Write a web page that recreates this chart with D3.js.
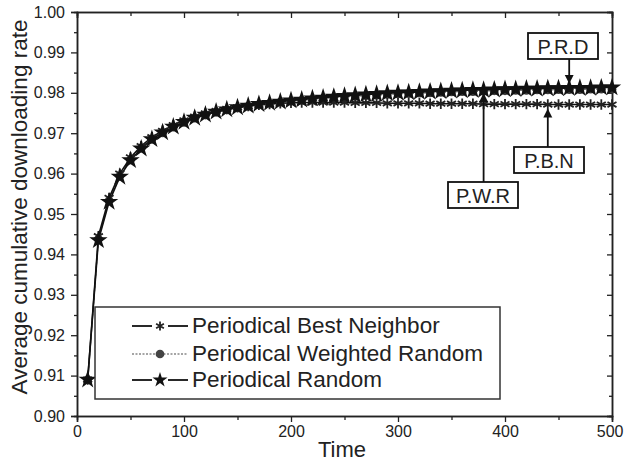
<!DOCTYPE html>
<html><head><meta charset="utf-8">
<script src="https://cdn.jsdelivr.net/npm/d3@7"></script>
<style>body{margin:0;background:#fff}svg{display:block}text{font-family:Arial,"Liberation Sans",sans-serif;fill:#222}</style>
</head><body><svg id="c" width="624" height="463"></svg>
<script>
const time = [10,20,30,40,50,60,70,80,90,100,110,120,130,140,150,160,170,180,190,200,210,220,230,240,250,260,270,280,290,300,310,320,330,340,350,360,370,380,390,400,410,420,430,440,450,460,470,480,490,500];
const bestNeighbor = [0.9090,0.9445,0.9540,0.9600,0.9640,0.9668,0.9690,0.9706,0.9720,0.9732,0.9741,0.9749,0.9755,0.9760,0.9764,0.9767,0.9770,0.9772,0.9774,0.9775,0.9776,0.9776,0.9776,0.9776,0.9776,0.9775,0.9775,0.9775,0.9774,0.9774,0.9774,0.9774,0.9773,0.9773,0.9773,0.9773,0.9773,0.9772,0.9772,0.9772,0.9772,0.9772,0.9772,0.9771,0.9771,0.9771,0.9771,0.9771,0.9771,0.9771];
const weightedRandom = [0.9090,0.9438,0.9533,0.9594,0.9634,0.9663,0.9685,0.9701,0.9715,0.9727,0.9737,0.9745,0.9752,0.9758,0.9763,0.9767,0.9771,0.9774,0.9777,0.9779,0.9781,0.9784,0.9786,0.9788,0.9790,0.9791,0.9793,0.9794,0.9796,0.9797,0.9798,0.9799,0.9800,0.9801,0.9802,0.9803,0.9803,0.9804,0.9805,0.9805,0.9806,0.9806,0.9807,0.9807,0.9808,0.9808,0.9808,0.9809,0.9809,0.9809];
const randomSel = [0.9090,0.9435,0.9530,0.9592,0.9633,0.9662,0.9685,0.9702,0.9716,0.9728,0.9738,0.9746,0.9753,0.9759,0.9764,0.9768,0.9772,0.9775,0.9778,0.9781,0.9783,0.9786,0.9788,0.9790,0.9792,0.9794,0.9796,0.9797,0.9799,0.9800,0.9801,0.9802,0.9803,0.9804,0.9805,0.9806,0.9807,0.9807,0.9808,0.9809,0.9809,0.9810,0.9810,0.9811,0.9811,0.9812,0.9812,0.9812,0.9813,0.9813];
const seriesNames = ["Periodical Best Neighbor","Periodical Weighted Random","Periodical Random"];
const xTicks = [0,100,200,300,400,500];
const yTicks = [0.90,0.91,0.92,0.93,0.94,0.95,0.96,0.97,0.98,0.99,1.00];
const annotations = [
  {label:"P.R.D", series:2, t:460},
  {label:"P.B.N", series:0, t:440},
  {label:"P.W.R", series:2, t:380}
];

const svg = d3.select("#c");
const L=77, R=612, T=12, B=416;
const x = d3.scaleLinear().domain([0,500]).range([L,R]);
const y = d3.scaleLinear().domain([0.90,1.00]).range([B,T]);

const fmt = d3.format(".2f");
// axes
const gx = svg.append("g").attr("transform",`translate(0,${B})`)
  .call(d3.axisBottom(x).tickValues(xTicks).tickSize(6).tickPadding(4).tickFormat(d3.format("d")));
gx.selectAll(".tick text").filter(d=>d===500).attr("text-anchor","end").attr("dx","11");
svg.append("g").attr("transform",`translate(0,${B})`)
  .call(d3.axisBottom(x).tickValues(d3.range(50,500,100)).tickSize(4).tickFormat(""));
svg.append("g").attr("transform",`translate(${L},0)`)
  .call(d3.axisLeft(y).tickValues(yTicks).tickSize(6).tickPadding(6).tickFormat(fmt));
svg.append("g").attr("transform",`translate(${L},0)`)
  .call(d3.axisLeft(y).tickValues(yTicks.slice(0,-1).map(v=>v+0.005)).tickSize(3).tickFormat(""));
svg.append("g").attr("transform",`translate(0,${T})`)
  .call(d3.axisBottom(x).tickValues(xTicks).tickSize(6).tickFormat(""));
svg.append("g").attr("transform",`translate(0,${T})`)
  .call(d3.axisBottom(x).tickValues(d3.range(50,500,100)).tickSize(4).tickFormat(""));
svg.append("g").attr("transform",`translate(${R},0)`)
  .call(d3.axisLeft(y).tickValues(yTicks).tickSize(5).tickFormat(""));
svg.append("g").attr("transform",`translate(${R},0)`)
  .call(d3.axisLeft(y).tickValues(yTicks.slice(0,-1).map(v=>v+0.005)).tickSize(3).tickFormat(""));
svg.selectAll(".domain").attr("stroke","#222").attr("stroke-width",1.5);
svg.selectAll(".tick line").attr("stroke","#222").attr("stroke-width",1.3);
svg.selectAll(".tick text").style("font-size","16px").attr("fill","#333");

// axis titles
svg.append("text").attr("x",342).attr("y",457).attr("text-anchor","middle").style("font-size","22px").text("Time");
svg.append("text").attr("transform","translate(27,207) rotate(-90)").attr("text-anchor","middle").style("font-size","22.5px").text("Average cumulative downloading rate");

// marker symbols
const starPath = d3.symbol().type(d3.symbolStar).size(105)();
const circPath = d3.symbol().type(d3.symbolCircle).size(60)();
function asterisk(g,cx,cy,s){
  const p = d3.path();
  for(let k=0;k<3;k++){const a=Math.PI/2+k*Math.PI/3; p.moveTo(cx-s*Math.cos(a),cy-s*Math.sin(a)); p.lineTo(cx+s*Math.cos(a),cy+s*Math.sin(a));}
  g.append("path").attr("d",p.toString()).attr("stroke","#222").attr("stroke-width",1.8).attr("fill","none");
}
const data = [bestNeighbor, weightedRandom, randomSel];
const line = d3.line().x((d,i)=>x(time[i])).y(d=>y(d));
const plot = svg.append("g");
plot.append("path").attr("d",line(weightedRandom)).attr("fill","none").attr("stroke","#777").attr("stroke-width",1.2).attr("stroke-dasharray","2,2");
plot.append("path").attr("d",line(bestNeighbor)).attr("fill","none").attr("stroke","#111").attr("stroke-width",1.6);
plot.append("path").attr("d",line(randomSel)).attr("fill","none").attr("stroke","#111").attr("stroke-width",1.6);
plot.selectAll(".wr").data(weightedRandom).join("path").attr("d",circPath)
  .attr("transform",(d,i)=>`translate(${x(time[i])},${y(d)})`).attr("fill","#3a3a3a");
bestNeighbor.forEach((d,i)=>asterisk(plot,x(time[i]),y(d),5.2));
plot.selectAll(".rs").data(randomSel).join("path").attr("d",starPath)
  .attr("transform",(d,i)=>`translate(${x(time[i])},${y(d)})`).attr("fill","#111");

// annotations
const defs = svg.append("defs");
defs.append("marker").attr("id","ah").attr("viewBox","0 0 10 10").attr("refX",9).attr("refY",5)
  .attr("markerWidth",5).attr("markerHeight",6).attr("orient","auto-start-reverse")
  .append("path").attr("d","M0,0 L10,5 L0,10 z").attr("fill","#111");
function annot(a, boxCx, boxTop, tipOffset){
  const ax = x(a.t), ay = y(data[a.series][time.indexOf(a.t)]);
  const w=70, h=26;
  const g = svg.append("g");
  const tipY = ay + tipOffset;
  const fromY = tipOffset<0 ? boxTop+h : boxTop;
  g.append("line").attr("x1",ax).attr("x2",ax).attr("y1",fromY).attr("y2",tipY)
   .attr("stroke","#111").attr("stroke-width",1.8).attr("marker-end","url(#ah)");
  g.append("rect").attr("x",boxCx-w/2).attr("y",boxTop).attr("width",w).attr("height",h)
   .attr("fill","#fff").attr("stroke","#111").attr("stroke-width",1.8);
  g.append("text").attr("x",boxCx).attr("y",boxTop+h/2+7.5).attr("text-anchor","middle").style("font-size","20px").text(a.label);
}
annot(annotations[0], 563, 33, -5);
annot(annotations[1], 549, 147, 5);
annot(annotations[2], 483, 182, 4);

// legend
const lg = svg.append("g");
lg.append("rect").attr("x",95).attr("y",307).attr("width",405).attr("height",92).attr("fill","#fff").attr("stroke","#333").attr("stroke-width",1.5);
const rows = [333,361,387];
seriesNames.forEach((n,i)=>{
  const cy = rows[i]-7;
  if(i===1){
    lg.append("line").attr("x1",132).attr("x2",188).attr("y1",cy).attr("y2",cy).attr("stroke","#888").attr("stroke-width",1.3).attr("stroke-dasharray","2,1.5");
    lg.append("path").attr("d",circPath).attr("transform",`translate(160,${cy})`).attr("fill","#444");
  } else {
    lg.append("line").attr("x1",132).attr("x2",152).attr("y1",cy).attr("y2",cy).attr("stroke","#111").attr("stroke-width",1.8);
    lg.append("line").attr("x1",168).attr("x2",188).attr("y1",cy).attr("y2",cy).attr("stroke","#111").attr("stroke-width",1.8);
    if(i===0) asterisk(lg,160,cy,4.5); else lg.append("path").attr("d",d3.symbol().type(d3.symbolStar).size(70)()).attr("transform",`translate(160,${cy})`).attr("fill","#111");
  }
  lg.append("text").attr("x",192).attr("y",rows[i]).style("font-size","22.5px").text(n);
});
</script></body></html>
